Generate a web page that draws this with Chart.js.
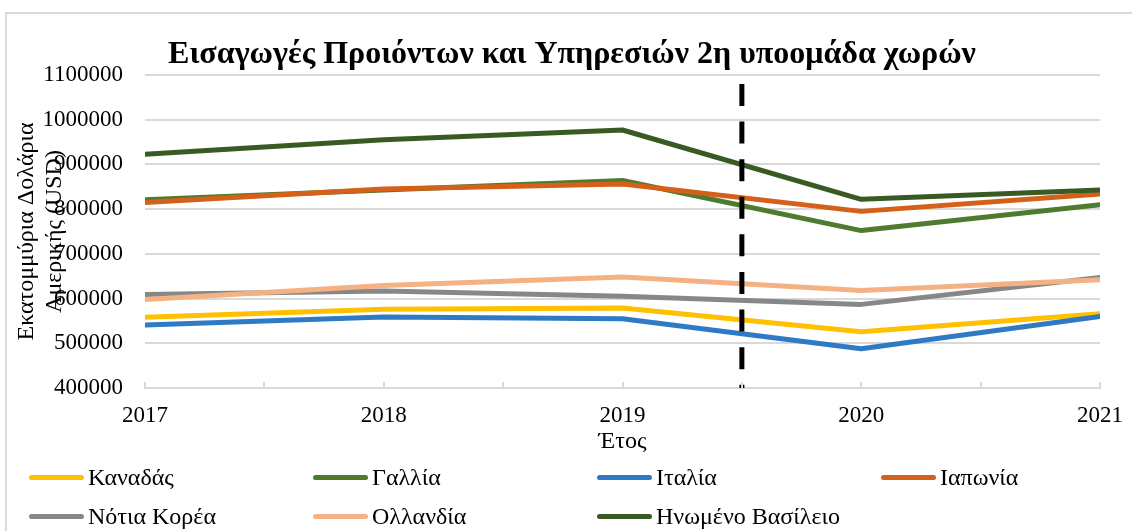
<!DOCTYPE html>
<html lang="el">
<head>
<meta charset="utf-8">
<title>Εισαγωγές Προιόντων και Υπηρεσιών</title>
<script src="https://cdn.jsdelivr.net/npm/chart.js@4/dist/chart.umd.min.js"></script>
<style>
    html, body {
        margin: 0;
        padding: 0;
        background: #ffffff;
        overflow: hidden;
    }
    #wrap {
        position: relative;
        width: 1132px;
        height: 531px;
    }
    #frame {
        position: absolute;
        left: 5px;
        top: 12px;
        width: 1150px;
        height: 560px;
        border: 2px solid #d9d9d9;
        box-sizing: border-box;
    }
    #importsChart {
        position: absolute;
        left: 0;
        top: 0;
    }
    #legend {
        position: absolute;
        left: 29px;
        top: 458px;
        display: grid;
        grid-template-columns: repeat(4, 284px);
        grid-auto-rows: 39px;
        font-family: "Liberation Serif", "Times New Roman", serif;
        font-size: 24px;
        color: #000;
    }
    .legend-item {
        display: flex;
        align-items: center;
        white-space: nowrap;
    }
    .legend-swatch {
        width: 55px;
        height: 5px;
        border-radius: 3px;
        margin-right: 4px;
    }
</style>
</head>
<body>
<div id="wrap">
    <div id="frame"></div>
    <canvas id="importsChart" width="1132" height="531"></canvas>
    <div id="legend"></div>
</div>
<script>
// Imports of goods and services, millions of USD
const years = [2017, 2018, 2019, 2020, 2021];
const canada = [558000, 576000, 579000, 526000, 566000];
const france = [821000, 843000, 864000, 752000, 810000];
const italy = [541000, 559000, 555000, 488000, 560000];
const japan = [815000, 845000, 856000, 795000, 834000];
const korea = [609000, 617000, 605000, 587000, 647000];
const netherlands = [598000, 629000, 648000, 618000, 642000];
const uk = [923000, 955000, 977000, 822000, 843000];

const countryNames = ["Καναδάς", "Γαλλία", "Ιταλία", "Ιαπωνία", "Νότια Κορέα", "Ολλανδία", "Ηνωμένο Βασίλειο"];
const countryValues = [canada, france, italy, japan, korea, netherlands, uk];
const countryColors = ["#FFC000", "#4E7B2D", "#2E7AC4", "#D4601A", "#878787", "#F4B183", "#3A5A24"];

// pandemic marker between 2019 and 2020
const markerYear = 2019.5;
const markerRange = [1080000, 400000];

const yTicks = { min: 400000, max: 1100000, step: 100000 };

const chartTitle = "Εισαγωγές Προιόντων και Υπηρεσιών 2η υποομάδα χωρών";
const xTitle = "Έτος";
const yTitleLines = ["Εκατομμύρια Δολάρια", "Αμερικής (USD)"];

const serif = "'Liberation Serif', 'Times New Roman', serif";

document.addEventListener("DOMContentLoaded", function () {
    const datasets = countryNames.map((name, i) => ({
        label: name,
        data: years.map((y, j) => ({ x: y, y: countryValues[i][j] })),
        borderColor: countryColors[i],
        backgroundColor: countryColors[i],
        borderWidth: 5,
        borderJoinStyle: "round",
        borderCapStyle: "round",
        pointRadius: 0,
        tension: 0,
        order: countryNames.length - i,
    }));

    datasets.push({
        label: "",
        isMarker: true,
        data: markerRange.map((v) => ({ x: markerYear, y: v })),
        borderColor: "#000000",
        borderWidth: 5,
        borderDash: [22, 15.6],
        borderCapStyle: "butt",
        pointRadius: 0,
        order: -1,
    });

    // titles and inner tick marks, drawn by hand
    const extras = {
        id: "extras",
        afterDraw(chart) {
            const ctx = chart.ctx;
            const area = chart.chartArea;
            const xScale = chart.scales.x;
            ctx.save();

            ctx.strokeStyle = "#d9d9d9";
            ctx.lineWidth = 2;
            xScale.ticks.forEach((t) => {
                const px = Math.round(xScale.getPixelForValue(t.value));
                ctx.beginPath();
                ctx.moveTo(px, area.bottom);
                ctx.lineTo(px, area.bottom - 6);
                ctx.stroke();
            });

            ctx.fillStyle = "#000";
            ctx.textAlign = "center";
            ctx.textBaseline = "alphabetic";

            ctx.font = "bold 32px " + serif;
            ctx.fillText(chartTitle, 572, 63);

            ctx.font = "24px " + serif;
            ctx.fillText(xTitle, (area.left + area.right) / 2, 448);

            const midY = (area.top + area.bottom) / 2;
            [33, 61].forEach((x, i) => {
                ctx.save();
                ctx.translate(x, midY);
                ctx.rotate(-Math.PI / 2);
                ctx.fillText(yTitleLines[i], 0, 0);
                ctx.restore();
            });
            ctx.restore();
        },
    };

    const ctx = document.getElementById("importsChart").getContext("2d");
    const chart = new Chart(ctx, {
        type: "line",
        data: { datasets: datasets },
        options: {
            responsive: false,
            animation: false,
            layout: {
                padding: { left: 0, right: 32, top: 75, bottom: 90 },
            },
            plugins: {
                legend: { display: false },
                tooltip: { enabled: false },
                title: { display: false },
            },
            scales: {
                x: {
                    type: "linear",
                    min: years[0],
                    max: years[years.length - 1],
                    afterFit: (scale) => {
                        scale.height = 53;
                        scale.paddingLeft = 0;
                        scale.paddingRight = 0;
                    },
                    ticks: {
                        stepSize: 0.5,
                        autoSkip: false,
                        maxRotation: 0,
                        padding: 14,
                        color: "#000",
                        font: { family: serif, size: 23 },
                        callback: (v) => (Number.isInteger(v) ? String(v) : ""),
                    },
                    grid: { drawOnChartArea: false, drawTicks: false },
                    border: { display: true, color: "#d9d9d9", width: 2 },
                },
                y: {
                    min: yTicks.min,
                    max: yTicks.max,
                    afterFit: (scale) => { scale.width = 145; },
                    ticks: {
                        stepSize: yTicks.step,
                        padding: 22,
                        color: "#000",
                        font: { family: serif, size: 23 },
                        callback: (v) => String(v),
                    },
                    grid: { color: "#d9d9d9", lineWidth: 2, drawTicks: false },
                    border: { display: false },
                },
            },
        },
        plugins: [extras],
    });

    // legend in four columns under the plot
    const legendBox = document.getElementById("legend");
    chart.data.datasets
        .filter((ds) => !ds.isMarker)
        .forEach((ds) => {
            const item = document.createElement("div");
            item.className = "legend-item";
            const swatch = document.createElement("span");
            swatch.className = "legend-swatch";
            swatch.style.background = ds.borderColor;
            const text = document.createElement("span");
            text.textContent = ds.label;
            item.appendChild(swatch);
            item.appendChild(text);
            legendBox.appendChild(item);
        });
});
</script>
</body>
</html>
